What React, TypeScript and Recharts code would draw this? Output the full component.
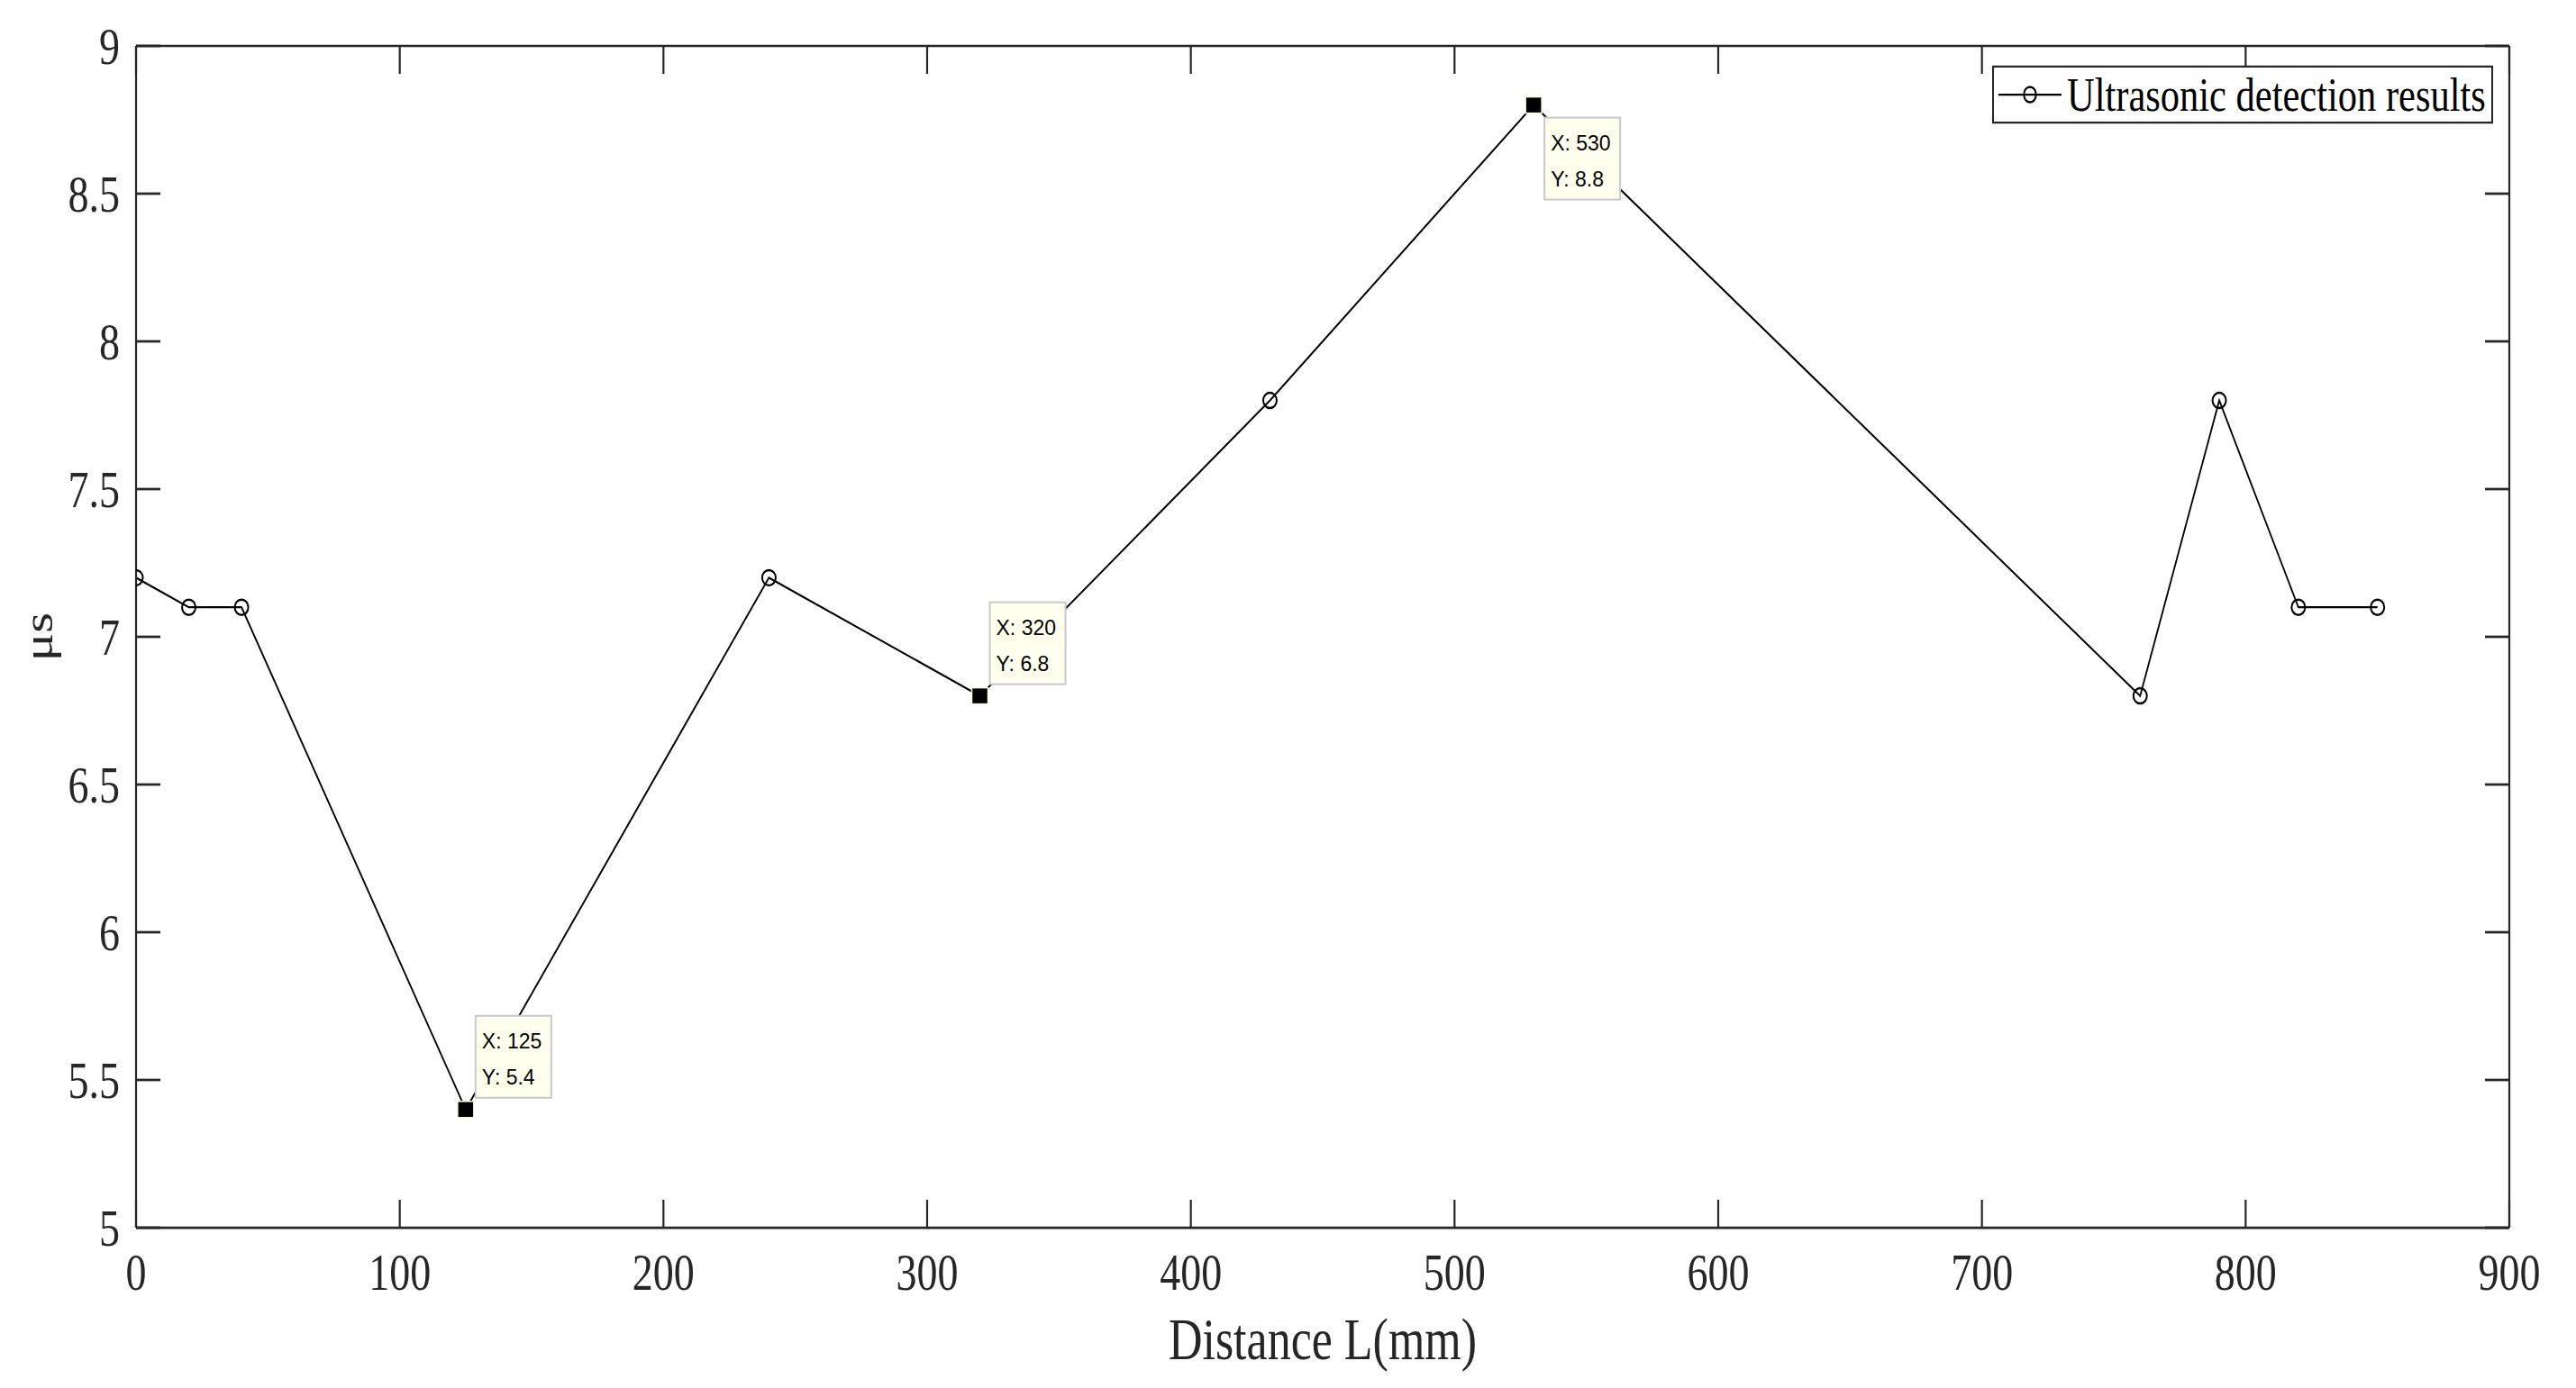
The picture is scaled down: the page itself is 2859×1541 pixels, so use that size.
import React from 'react';
import { LineChart, Line, XAxis, YAxis, Legend } from 'recharts';

// ---------- data ----------
const distances = [0, 20, 40, 125, 240, 320, 430, 530, 760, 790, 820, 850];
const times = [7.2, 7.1, 7.1, 5.4, 7.2, 6.8, 7.8, 8.8, 6.8, 7.8, 7.1, 7.1];
const xTicks = [0, 100, 200, 300, 400, 500, 600, 700, 800, 900];
const yTicks = [5, 5.5, 6, 6.5, 7, 7.5, 8, 8.5, 9];
const tipDistances = [125, 320, 530];
const SERIES_NAME = 'Ultrasonic detection results';
const X_LABEL = 'Distance L(mm)';
const Y_LABEL = 'μs';

const chartData = distances.map((x, i) => ({ x, y: times[i] }));

// ---------- style ----------
const S = 1.25; // the original figure is stretched vertically
const W = 2859;
const H = 1232;
const AXIS = '#262626';
const SERIF = '"Liberation Serif", "Times New Roman", Times, serif';
const SANS = '"Liberation Sans", Arial, Helvetica, sans-serif';
const TICK_FONT = 46;
const AXIS_W = 2.2;
const X_TICK_LEN = 24.8;
const Y_TICK_LEN = 27;

const XTickBottom = (p: any) => (
  <g>
    <line x1={p.x} x2={p.x} y1={p.y} y2={p.y - X_TICK_LEN} stroke={AXIS} strokeWidth={AXIS_W} />
    <text x={p.x} y={p.y + 55} textAnchor="middle" fontFamily={SERIF} fontSize={TICK_FONT} fill={AXIS}>
      {p.payload.value}
    </text>
  </g>
);

const XTickTop = (p: any) => (
  <line x1={p.x} x2={p.x} y1={p.y} y2={p.y + X_TICK_LEN} stroke={AXIS} strokeWidth={AXIS_W} />
);

const YTickLeft = (p: any) => (
  <g>
    <line x1={p.x} x2={p.x + Y_TICK_LEN} y1={p.y} y2={p.y} stroke={AXIS} strokeWidth={AXIS_W} />
    <text x={p.x - 18} y={p.y} dy="0.34em" textAnchor="end" fontFamily={SERIF} fontSize={TICK_FONT} fill={AXIS}>
      {String(p.payload.value)}
    </text>
  </g>
);

const YTickRight = (p: any) => (
  <line x1={p.x} x2={p.x - Y_TICK_LEN} y1={p.y} y2={p.y} stroke={AXIS} strokeWidth={AXIS_W} />
);

const XLabel = (props: any) => {
  const vb = props && props.viewBox;
  const cx = vb && typeof vb.x === 'number' ? vb.x + vb.width / 2 : 1468;
  const y = vb && typeof vb.y === 'number' ? vb.y + 116.8 : 1207.2;
  return (
    <text x={cx} y={y} textAnchor="middle" fontFamily={SERIF} fontSize={52} fill={AXIS}>
      {X_LABEL}
    </text>
  );
};

const YLabel = (props: any) => {
  const vb = props && props.viewBox;
  const cy = vb && typeof vb.y === 'number' ? vb.y + vb.height / 2 : 565.6;
  const x = 58;
  return (
    <text x={x} y={cy} transform={`rotate(-90, ${x}, ${cy})`} textAnchor="middle" fontFamily={SERIF} fontSize={47} fill={AXIS}>
      {Y_LABEL}
    </text>
  );
};

const maxTime = Math.max(...times);

const renderDot = (p: any) => {
  const { cx, cy, payload, index } = p;
  if (cx == null || cy == null) return <g key={`d-${index}`} />;
  if (tipDistances.includes(payload.x)) {
    const below = payload.y === maxTime;
    const bx = below ? 12 : 11;
    const by = below ? 14 : -104;
    return (
      <g key={`tip-${index}`} transform={`translate(${cx},${cy}) scale(1,${1 / S})`}>
        <rect x={-9} y={-9} width={18} height={18} fill="#000" stroke="#fffbd6" strokeWidth={1.5} />
        <rect x={bx} y={by} width={84} height={91} fill="#ffffee" stroke="#c8c8c8" strokeWidth={2} />
        <text x={bx + 7} y={by + 36} fontFamily={SANS} fontSize={23} fill="#000">{`X: ${payload.x}`}</text>
        <text x={bx + 7} y={by + 76} fontFamily={SANS} fontSize={23} fill="#000">{`Y: ${payload.y}`}</text>
      </g>
    );
  }
  return <ellipse key={`d-${index}`} cx={cx} cy={cy} rx={7.5} ry={6.8} fill="none" stroke="#000" strokeWidth={2} />;
};

const LegendBox = () => (
  <svg width={556} height={52} style={{ display: 'block' }}>
    <rect x={1} y={1} width={554} height={50} fill="#fff" stroke={AXIS} strokeWidth={2} />
    <line x1={7} x2={77} y1={26} y2={26} stroke="#000" strokeWidth={1.8} />
    <ellipse cx={42} cy={26} rx={6.7} ry={6.8} fill="none" stroke="#000" strokeWidth={2} />
    <text x={83} y={40.8} fontFamily={SERIF} fontSize={42.5} fill="#000">{SERIES_NAME}</text>
  </svg>
);

export default function App() {
  return (
    <div
      style={{
        position: 'absolute',
        left: 0,
        top: 0,
        width: W,
        height: H,
        background: '#fff',
        transform: `scaleY(${S})`,
        transformOrigin: '0 0',
      }}
    >
      <LineChart
        width={W}
        height={H}
        data={chartData}
        margin={{ top: 30.8, right: 64, bottom: H - 1090.4 - 60, left: 91 }}
      >
        <XAxis
          xAxisId="b"
          type="number"
          dataKey="x"
          domain={[0, 900]}
          ticks={xTicks}
          interval={0}
          allowDataOverflow
          height={60}
          tickSize={0}
          tickMargin={0}
          tickLine={false}
          axisLine={{ stroke: AXIS, strokeWidth: AXIS_W }}
          tick={XTickBottom}
          label={XLabel}
        />
        <XAxis
          xAxisId="t"
          orientation="top"
          type="number"
          dataKey="x"
          domain={[0, 900]}
          ticks={xTicks}
          interval={0}
          allowDataOverflow
          height={10}
          tickSize={0}
          tickMargin={0}
          tickLine={false}
          axisLine={{ stroke: AXIS, strokeWidth: AXIS_W }}
          tick={XTickTop}
        />
        <YAxis
          yAxisId="l"
          type="number"
          domain={[5, 9]}
          ticks={yTicks}
          interval={0}
          allowDataOverflow
          width={60}
          tickSize={0}
          tickMargin={0}
          tickLine={false}
          axisLine={{ stroke: AXIS, strokeWidth: AXIS_W }}
          tick={YTickLeft}
          label={YLabel}
        />
        <YAxis
          yAxisId="r"
          orientation="right"
          type="number"
          domain={[5, 9]}
          ticks={yTicks}
          interval={0}
          allowDataOverflow
          width={10}
          tickSize={0}
          tickMargin={0}
          tickLine={false}
          axisLine={{ stroke: AXIS, strokeWidth: AXIS_W }}
          tick={YTickRight}
        />
        <Line
          xAxisId="t"
          yAxisId="r"
          dataKey="y"
          stroke="none"
          dot={false}
          activeDot={false}
          legendType="none"
          isAnimationActive={false}
        />
        <Line
          xAxisId="b"
          yAxisId="l"
          dataKey="y"
          name={SERIES_NAME}
          type="linear"
          stroke="#000"
          strokeWidth={1.8}
          dot={renderDot}
          activeDot={false}
          isAnimationActive={false}
        />
        <Legend
          layout="horizontal"
          verticalAlign="middle"
          align="center"
          content={LegendBox}
          wrapperStyle={{ left: 2211, top: 58.4, width: 556, height: 52, margin: 0, padding: 0 }}
        />
      </LineChart>
    </div>
  );
}
